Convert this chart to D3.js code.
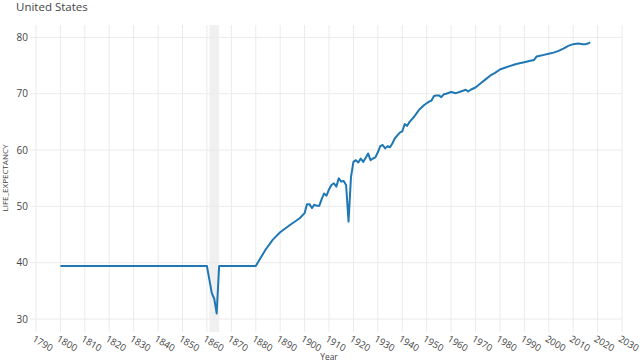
<!DOCTYPE html>
<html lang="en">
<head>
    <meta charset="UTF-8">
    <title>United States</title>
    <style>
        body { margin: 0; background: #fff; }
        svg { display: block; font-family: "Open Sans", "DejaVu Sans", sans-serif; }
        .grid line { stroke: #ebebeb; stroke-width: 1; }
        .tick-label { fill: #444; }
    </style>
</head>
<body>
    <div id="chart"></div>
    <script src="https://d3js.org/d3.v7.min.js"></script>
    <script>
        const years = [1800, 1859, 1860, 1861, 1862, 1863, 1864, 1865, 1880, 1884, 1887, 1890, 1894,
            1898, 1900, 1901, 1902, 1903, 1904, 1905, 1906, 1907, 1908, 1909, 1910, 1911, 1912, 1913,
            1914, 1915, 1916, 1917, 1918, 1919, 1920, 1921, 1922, 1923, 1924, 1925, 1926, 1927, 1928,
            1929, 1930, 1931, 1932, 1933, 1934, 1935, 1936, 1937, 1938, 1939, 1940, 1941, 1942, 1943,
            1944, 1945, 1946, 1947, 1948, 1949, 1950, 1951, 1952, 1953, 1954, 1955, 1956, 1957, 1958,
            1960, 1962, 1964, 1966, 1967, 1968, 1970, 1972, 1974, 1976, 1978, 1980, 1982, 1984, 1986,
            1988, 1990, 1992, 1994, 1995, 1996, 1998, 2000, 2002, 2004, 2006, 2008, 2010, 2012, 2014,
            2015, 2016, 2017];
        const lifeExp = [39.41, 39.41, 39.41, 37.0, 34.6, 33.6, 31.0, 39.41, 39.41, 42.3, 44.1, 45.4, 46.7,
            47.9, 48.8, 50.4, 50.4, 49.7, 50.3, 50.1, 50.1, 51.3, 52.3, 51.9, 53.0, 53.8, 54.1, 53.5,
            55.0, 54.4, 54.5, 53.8, 47.3, 55.2, 57.9, 58.2, 57.8, 58.5, 57.9, 58.6, 59.4, 58.2, 58.5,
            58.7, 59.6, 60.7, 60.9, 60.3, 60.7, 60.5, 61.2, 62.1, 62.6, 63.1, 63.3, 64.6, 64.3, 65.0,
            65.5, 66.0, 66.6, 67.2, 67.6, 68.0, 68.3, 68.6, 68.8, 69.6, 69.7, 69.7, 69.4, 69.9, 70.0,
            70.3, 70.1, 70.4, 70.7, 70.4, 70.7, 71.1, 71.8, 72.5, 73.2, 73.7, 74.3, 74.6, 74.9, 75.2,
            75.4, 75.6, 75.8, 76.0, 76.6, 76.7, 76.9, 77.1, 77.3, 77.6, 78.0, 78.5, 78.8, 78.9, 78.8,
            78.8, 78.9, 79.1];
        const xTicks = d3.range(1790, 2031, 10);
        const yTicks = [30, 40, 50, 60, 70, 80];
        const shaded = [1861, 1865];

        const width = 640, height = 361;
        const plot = { left: 36, right: 622, top: 25, bottom: 332 };

        const x = d3.scaleLinear().domain([1790, 2030]).range([plot.left, plot.right]);
        const y = d3.scaleLinear().domain([27.7, 82.2]).range([plot.bottom, plot.top]);

        const svg = d3.select("#chart").append("svg")
            .attr("width", width)
            .attr("height", height);

        // title
        svg.append("text")
            .attr("x", 16).attr("y", 11)
            .attr("font-size", 11.5)
            .attr("fill", "#444")
            .text("United States");

        // civil war band
        svg.append("rect")
            .attr("x", x(shaded[0]))
            .attr("y", plot.top)
            .attr("width", x(shaded[1]) - x(shaded[0]))
            .attr("height", plot.bottom - plot.top)
            .attr("fill", "#f0f0f0");

        const grid = svg.append("g").attr("class", "grid");
        grid.selectAll(".vx").data(xTicks).join("line")
            .attr("x1", d => x(d)).attr("x2", d => x(d))
            .attr("y1", plot.top).attr("y2", plot.bottom);
        grid.selectAll(".hy").data(yTicks).join("line")
            .attr("x1", plot.left - 6).attr("x2", plot.right)
            .attr("y1", d => y(d)).attr("y2", d => y(d));

        // y tick labels
        svg.selectAll(".ylab").data(yTicks).join("text")
            .attr("class", "tick-label")
            .attr("x", 28)
            .attr("y", d => y(d))
            .attr("dy", "0.35em")
            .attr("text-anchor", "end")
            .attr("font-size", 10)
            .text(d => d);

        // x tick labels, rotated
        svg.selectAll(".xlab").data(xTicks).join("text")
            .attr("class", "tick-label")
            .attr("transform", d => `translate(${x(d) - 1},${plot.bottom + 3}) rotate(30)`)
            .attr("dy", "0.71em")
            .attr("font-size", 9.5)
            .text(d => d);

        // axis titles
        svg.append("text")
            .attr("x", (plot.left + plot.right) / 2)
            .attr("y", 360)
            .attr("text-anchor", "middle")
            .attr("font-size", 8.5)
            .attr("fill", "#444")
            .text("Year");
        svg.append("text")
            .attr("transform", `translate(8,178) rotate(-90)`)
            .attr("text-anchor", "middle")
            .attr("font-size", 8)
            .attr("fill", "#444")
            .text("LIFE_EXPECTANCY");

        const line = d3.line()
            .x((d, i) => x(years[i]))
            .y(d => y(d));
        svg.append("path")
            .datum(lifeExp)
            .attr("fill", "none")
            .attr("stroke", "#1f77b4")
            .attr("stroke-width", 2)
            .attr("stroke-linejoin", "round")
            .attr("d", line);
    </script>
</body>
</html>
